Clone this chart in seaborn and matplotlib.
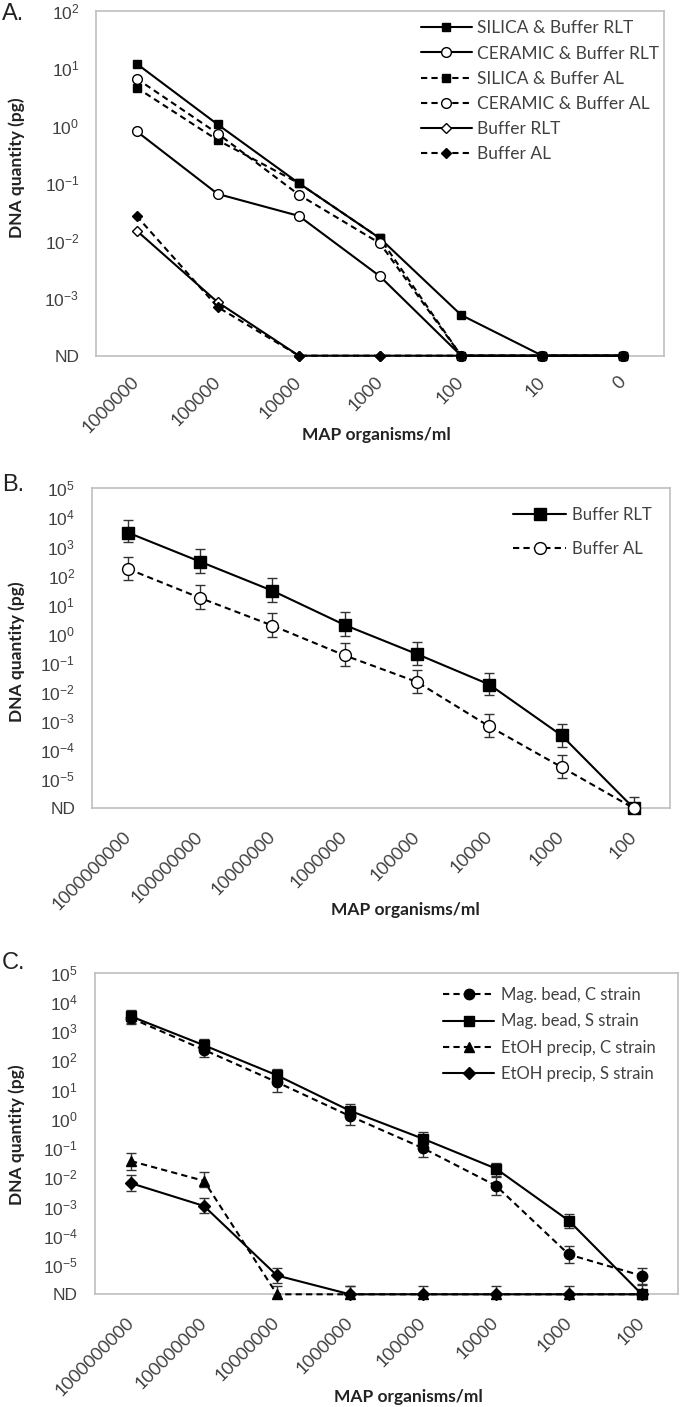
import numpy as np
import pandas as pd
import matplotlib
matplotlib.use("Agg")
import matplotlib.pyplot as plt
import seaborn as sns
from matplotlib.ticker import FixedLocator, NullLocator, NullFormatter

ND = 0  # not detected -> drawn on the "ND" baseline

# ---------------- panel A ----------------
cats_a = ['1000000', '100000', '10000', '1000', '100', '10', '0']
a_silica_rlt = [12, 1.05, 0.1, 0.011, 5.1e-4, ND, ND]
a_ceramic_rlt = [0.8, 0.065, 0.027, 0.0024, ND, ND, ND]
a_silica_al = [4.6, 0.56, 0.1, 0.011, ND, ND, ND]
a_ceramic_al = [6.6, 0.73, 0.063, 0.009, ND, ND, ND]
a_buffer_rlt = [0.015, 8.5e-4, ND, ND, ND, ND, ND]
a_buffer_al = [0.027, 7e-4, ND, ND, ND, ND, ND]

# ---------------- panel B ----------------
cats_bc = ['1000000000', '100000000', '10000000', '1000000', '100000', '10000', '1000', '100']
b_rlt = [3000, 300, 30, 2.0, 0.2, 0.018, 3.2e-4, ND]
b_rlt_lo = [1400, 125, 12, 0.85, 0.085, 0.008, 1.3e-4, ND]
b_rlt_hi = [8000, 800, 80, 5.7, 0.52, 0.046, 8e-4, ND]
b_al = [170, 17, 1.9, 0.18, 0.022, 6.5e-4, 2.6e-5, ND]
b_al_lo = [72, 7, 0.8, 0.078, 0.0093, 2.8e-4, 1.1e-5, ND]
b_al_hi = [450, 46, 5.2, 0.5, 0.059, 1.7e-3, 7e-5, 2.5e-6]

# ---------------- panel C ----------------
c_mag_c = [2800, 230, 18, 1.25, 0.1, 0.0052, 2.3e-5, 4.3e-6]
c_mag_c_lo = [1700, 130, 8.5, 0.6, 0.048, 0.0025, 1.2e-5, 2.2e-6]
c_mag_c_hi = [5000, 400, 35, 2.3, 0.2, 0.01, 4.5e-5, 8e-6]
c_mag_s = [3200, 330, 31, 1.9, 0.21, 0.02, 3.3e-4, ND]
c_mag_s_lo = [1900, 190, 18, 1.1, 0.12, 0.011, 1.8e-4, ND]
c_mag_s_hi = [5500, 550, 52, 3.3, 0.36, 0.032, 5.5e-4, 2e-6]
c_etoh_c = [0.036, 0.0076, ND, ND, ND, ND, ND, ND]
c_etoh_c_lo = [0.018, 0.0045, ND, ND, ND, ND, ND, ND]
c_etoh_c_hi = [0.07, 0.015, 1.9e-6, 1.9e-6, 1.9e-6, 1.9e-6, 1.9e-6, ND]
c_etoh_s = [0.0063, 0.00105, 4.4e-6, ND, ND, ND, ND, ND]
c_etoh_s_lo = [0.0035, 0.0006, 2.5e-6, ND, ND, ND, ND, ND]
c_etoh_s_hi = [0.012, 0.0019, 8e-6, 1.9e-6, ND, ND, ND, ND]

sns.set_theme(style="white")
plt.rcParams['font.family'] = ['Lato', 'DejaVu Sans']
plt.rcParams['mathtext.fontset'] = 'custom'
plt.rcParams['mathtext.rm'] = 'Liberation Sans'

GRAY = '#bfbfbf'
TXT = '#404040'
DASH = (0, (3, 2))

fig = plt.figure(figsize=(6.8, 14.07), dpi=100)
W, H = 680, 1407


def add_axes(left, top, right, bottom):
    return fig.add_axes([left / W, 1 - bottom / H, (right - left) / W, (bottom - top) / H])


def fix(vals, floor):
    return np.array([floor if v == ND else v for v in vals], float)


def series(ax, vals, floor, label, ls, marker, mfc, ms, lo=None, hi=None):
    x = np.arange(len(vals))
    y = fix(vals, floor)
    if lo is not None:
        lo_, hi_ = fix(lo, floor), fix(hi, floor)
        ax.errorbar(x, y, yerr=[y - lo_, hi_ - y], fmt='none', ecolor='#333333',
                    elinewidth=1.0, capsize=3.6, capthick=1.0, zorder=2, clip_on=False)
    df = pd.DataFrame({'x': x, 'y': y})
    sns.lineplot(data=df, x='x', y='y', ax=ax, color='black', lw=1.5, linestyle=ls,
                 marker=marker, mfc=mfc, mec='black', mew=1.0, ms=ms, label=label,
                 errorbar=None, zorder=3, clip_on=False)


def style_axes(ax, cats, floor_exp, top_exp, ticks_between):
    n = len(cats)
    ax.set_yscale('log')
    ax.set_ylim(10.0 ** floor_exp, 10.0 ** top_exp)
    ticks = [10.0 ** k for k in range(floor_exp, top_exp + 1)]
    labels = ['ND'] + [r'$\mathregular{10^{%d}}$' % k for k in range(floor_exp + 1, top_exp + 1)]
    ax.yaxis.set_major_locator(FixedLocator(ticks))
    ax.yaxis.set_minor_locator(NullLocator())
    ax.set_yticklabels(labels, fontfamily='Liberation Sans', fontsize=12.5, color=TXT)
    ax.set_xlim(-0.5, n - 0.5)
    ax.set_xticks(np.arange(n))
    ax.set_xticklabels(cats, rotation=45, ha='right', va='center', rotation_mode='anchor',
                       fontsize=13, color=TXT)
    if ticks_between:
        ax.xaxis.set_minor_locator(FixedLocator(np.arange(n + 1) - 0.5))
        ax.xaxis.set_minor_formatter(NullFormatter())
        ax.tick_params(axis='x', which='major', length=0, pad=17)
        ax.tick_params(axis='x', which='minor', length=5, width=1, color=GRAY, direction='out')
    else:
        ax.tick_params(axis='x', which='major', length=5, width=1, color=GRAY,
                       direction='out', pad=13.5)
    ax.tick_params(axis='y', which='major', length=5, width=1, color=GRAY, direction='out', pad=7)
    ax.set_xlabel('')
    ax.set_ylabel('')
    for s in ax.spines.values():
        s.set_color(GRAY)
        s.set_linewidth(1.2)


# ---- A ----
axA = add_axes(96, 10.7, 664, 355.7)
fa = 1e-4
series(axA, a_silica_rlt, fa, 'SILICA & Buffer RLT', '-', 's', 'black', 5.5)
series(axA, a_ceramic_rlt, fa, 'CERAMIC & Buffer RLT', '-', 'o', 'white', 7)
series(axA, a_silica_al, fa, 'SILICA & Buffer AL', DASH, 's', 'black', 5.5)
series(axA, a_ceramic_al, fa, 'CERAMIC & Buffer AL', DASH, 'o', 'white', 7)
series(axA, a_buffer_rlt, fa, 'Buffer RLT', '-', 'D', 'white', 5)
series(axA, a_buffer_al, fa, 'Buffer AL', DASH, 'D', 'black', 5)
style_axes(axA, cats_a, -4, 2, True)
axA.legend(loc='upper left', bbox_to_anchor=(0.5717, 0.972), frameon=False, fontsize=12.5,
           handlelength=2.93, handletextpad=0.32, labelspacing=0.53, borderpad=0,
           borderaxespad=0, labelcolor=TXT)

# ---- B ----
axB = add_axes(91.8, 488.3, 670, 808.3)
fb = 1e-6
series(axB, b_rlt, fb, 'Buffer RLT', '-', 's', 'black', 9, b_rlt_lo, b_rlt_hi)
series(axB, b_al, fb, 'Buffer AL', DASH, 'o', 'white', 8.5, b_al_lo, b_al_hi)
style_axes(axB, cats_bc, -6, 5, False)
axB.legend(loc='upper left', bbox_to_anchor=(0.729, 0.9425), frameon=False, fontsize=12,
           handlelength=3.18, handletextpad=0.36, labelspacing=1.1, borderpad=0,
           borderaxespad=0, labelcolor=TXT)

# ---- C ----
axC = add_axes(94.5, 972.7, 678.3, 1294.3)
series(axC, c_mag_c, fb, 'Mag. bead, C strain', DASH, 'o', 'black', 7.5, c_mag_c_lo, c_mag_c_hi)
series(axC, c_mag_s, fb, 'Mag. bead, S strain', '-', 's', 'black', 7.5, c_mag_s_lo, c_mag_s_hi)
series(axC, c_etoh_c, fb, 'EtOH precip, C strain', DASH, '^', 'black', 7.5, c_etoh_c_lo, c_etoh_c_hi)
series(axC, c_etoh_s, fb, 'EtOH precip, S strain', '-', 'D', 'black', 6.5, c_etoh_s_lo, c_etoh_s_hi)
style_axes(axC, cats_bc, -6, 5, False)
axC.legend(loc='upper left', bbox_to_anchor=(0.597, 0.9555), frameon=False, fontsize=12,
           handlelength=3.06, handletextpad=0.42, labelspacing=0.62, borderpad=0,
           borderaxespad=0, labelcolor=TXT)

# panel letters and axis titles
for letter, ycen in [('A.', 14.5), ('B.', 485), ('C.', 963)]:
    fig.text(2 / W, 1 - ycen / H, letter, fontsize=17, family='Liberation Sans',
             color='#222222', ha='left', va='center')
for ycen in [168, 652, 1135]:
    fig.text(17 / W, 1 - ycen / H, 'DNA quantity (pg)', fontsize=12.5, fontweight='bold',
             rotation=90, ha='center', va='center', color='#222222')
for xcen, ycen in [(376, 435), (405, 910), (408, 1397)]:
    fig.text(xcen / W, 1 - ycen / H, 'MAP organisms/ml', fontsize=12.5, fontweight='bold',
             ha='center', va='center', color='#222222')

plt.savefig('out.png', dpi=100)
